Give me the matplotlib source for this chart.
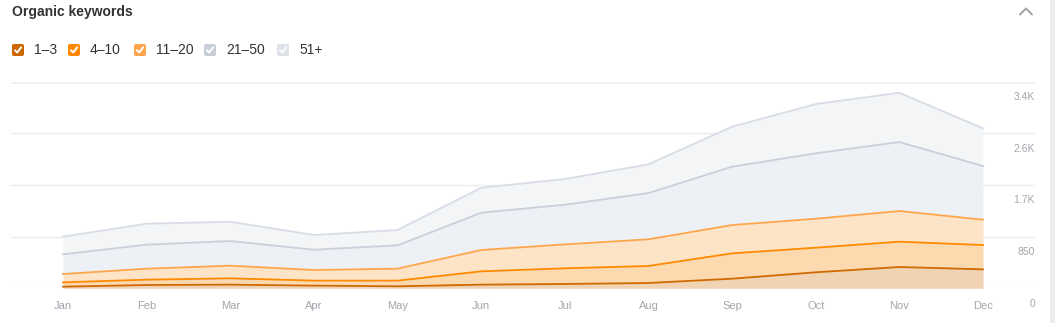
import matplotlib
matplotlib.use("Agg")
import matplotlib.pyplot as plt
from matplotlib.patches import FancyBboxPatch, Rectangle
import numpy as np

# monthly organic keywords per position bucket
months = ["Jan", "Feb", "Mar", "Apr", "May", "Jun", "Jul", "Aug", "Sep", "Oct", "Nov", "Dec"]
pos_1_3 = [27, 54, 60, 44, 33, 60, 71, 87, 158, 263, 350, 312]
pos_4_10 = [71, 88, 104, 82, 93, 219, 258, 280, 417, 405, 417, 400]
pos_11_20 = [137, 181, 208, 175, 197, 351, 394, 439, 466, 477, 505, 417]
pos_21_50 = [324, 395, 406, 334, 384, 614, 652, 761, 960, 1076, 1135, 883]
pos_51_plus = [291, 345, 318, 242, 252, 411, 423, 473, 658, 811, 811, 620]

series_labels = ["1\u20133", "4\u201310", "11\u201320", "21\u201350", "51+"]
y_ticks = [0, 850, 1700, 2550, 3400]
y_tick_labels = ["0", "850", "1.7K", "2.6K", "3.4K"]

line_colors = ["#cf6a00", "#ff8a00", "#ffa64d", "#c9d0da", "#d8dde5"]
fill_colors = ["#f0d3b3", "#fdd9b0", "#fde4c7", "#edf0f4", "#f3f5f7"]
box_colors = ["#cc6600", "#ff8800", "#ffa64d", "#c8ced8", "#dde1e8"]

W, H = 1055, 323
fig = plt.figure(figsize=(W / 100, H / 100), dpi=100)
plt.rcParams["font.family"] = ["Liberation Sans", "DejaVu Sans"]


def frac(px_left, px_top, px_w, px_h):
    return [px_left / W, 1 - (px_top + px_h) / H, px_w / W, px_h / H]


ax = fig.add_axes(frac(11, 81.7, 1024, 206.6))
x = np.arange(len(months))
data = np.array([pos_1_3, pos_4_10, pos_11_20, pos_21_50, pos_51_plus], dtype=float)
tops = np.cumsum(data, axis=0)

# stacked areas, drawn bottom-up so lines stay visible
prev = np.zeros(len(months))
for i in range(len(data)):
    ax.fill_between(x, prev, tops[i], color=fill_colors[i], lw=0, zorder=2 + i)
    prev = tops[i]
for i in range(len(data) - 1, -1, -1):
    ax.plot(x, tops[i], color=line_colors[i], lw=1.3, zorder=10 + (5 - i),
            solid_joinstyle="round")

ax.set_xlim(-0.6217, 11.6217)
ax.set_ylim(0, 3400)
for t in y_ticks:
    ax.axhline(t, color="#ebebeb", lw=1.0, zorder=1)
ax.axhline(3400, color="#f1f1f1", lw=2.0, zorder=1)

for spine in ax.spines.values():
    spine.set_visible(False)
ax.set_xticks(x)
ax.set_xticklabels(months)
ax.tick_params(axis="x", length=0, pad=9, labelsize=8, labelcolor="#a4a4ac")
ax.set_yticks([])
for t, lab in zip(y_ticks, y_tick_labels):
    ax.annotate(lab, (1.0, t), xycoords=ax.get_yaxis_transform(),
                xytext=(0, -11), textcoords="offset points",
                ha="right", va="center", fontsize=7.5, color="#a4a4ac")

# overlay in pixel coordinates for header, legend and chrome
ov = fig.add_axes([0, 0, 1, 1], facecolor="none")
ov.set_xlim(0, W)
ov.set_ylim(H, 0)
ov.axis("off")

ov.text(12, 12, "Organic keywords", fontsize=10, fontweight="bold",
        color="#333333", va="center", ha="left")
ov.plot([1020, 1026, 1032], [14.5, 8.5, 14.5], color="#a0a0a0", lw=1.4,
        solid_capstyle="round")
ov.add_patch(Rectangle((1050, 0), 5, H, color="#ececec", lw=0))

box_x = [12, 68, 134, 204, 277]
for bx, lab, c in zip(box_x, series_labels, box_colors):
    ov.add_patch(FancyBboxPatch((bx, 44), 12, 12, boxstyle="round,pad=0,rounding_size=2",
                                fc=c, ec="none"))
    ov.plot([bx + 3, bx + 5.2, bx + 9.2], [50.3, 52.5, 47.3], color="white", lw=1.4,
            solid_capstyle="round", solid_joinstyle="round")
    ov.text(bx + 22, 50.5, lab, fontsize=10, color="#333333", va="center", ha="left")

fig.savefig("out.png", dpi=100)
